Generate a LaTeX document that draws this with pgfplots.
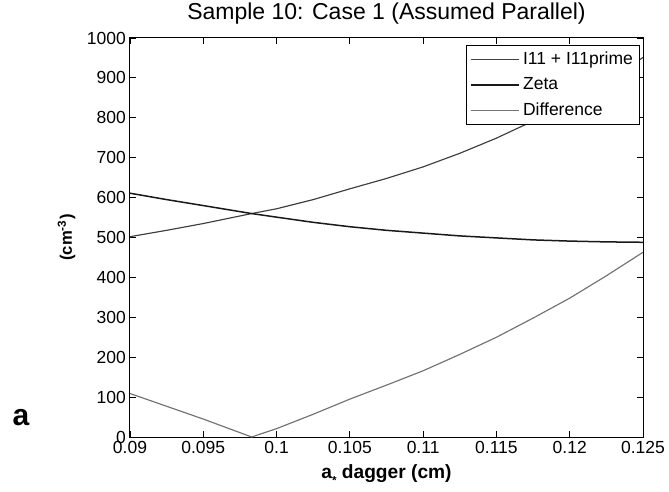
\documentclass[border=0pt]{standalone}
\usepackage{fontspec}
\setmainfont{Liberation Sans}
\usepackage{pgfplots}
\pgfplotsset{compat=1.18}
\begin{document}
\begin{tikzpicture}
\begin{axis}[
  scale only axis,
  width=307.8pt, height=239.4pt,
  xmin=0.09, xmax=0.125, ymin=0, ymax=1000,
  xtick={0.09,0.095,0.1,0.105,0.11,0.115,0.12,0.125},
  xticklabels={0.09,0.095,0.1,0.105,0.11,0.115,0.12,0.125},
  ytick={0,100,...,1000},
  yticklabel style={/pgf/number format/1000 sep={}, xshift=1pt},
  xticklabel style={yshift=1pt},
  tick align=inside, tick pos=both,
  major tick length=3.5pt,
  tick style={black, line width=0.5pt},
  axis line style={black, line width=0.6pt},
  /pgf/number format/assume math mode=true,
  tick label style={font=\fontsize{10.5}{12}\selectfont},
  scaled x ticks=false,
  title={Sample 10: Case 1 (Assumed Parallel)},
  title style={font=\fontsize{13.8}{15}\selectfont, yshift=-1pt},
  xlabel={\textbf{a\raisebox{-0.55ex}{\scriptsize *} dagger (cm)}},
  xlabel style={font=\fontsize{11.5}{13}\selectfont, yshift=0pt},
  ylabel={\textbf{(cm\textsuperscript{-3})}},
  ylabel style={font=\fontsize{10}{12}\selectfont, yshift=0pt},
  legend style={at={(0.994,0.982)}, anchor=north east, draw=black, line width=0.5pt,
    font=\fontsize{10.5}{12}\selectfont, inner sep=2pt, row sep=2.3pt,
    legend cell align=left},
  legend image post style={xscale=1.7},
]
\addplot[black!75, line width=0.7pt] coordinates {
(0.09,502) (0.0925,518) (0.095,535) (0.0983,560) (0.1,572) (0.1025,595) (0.105,622) (0.1075,648) (0.11,677) (0.1125,711) (0.115,749) (0.1175,792) (0.12,839) (0.1225,893) (0.125,951)};
\addlegendentry{I11 + I11prime}
\addplot[black!90, line width=0.9pt] coordinates {
(0.09,611) (0.0925,595) (0.095,580) (0.0983,560) (0.1,551) (0.1025,538) (0.105,527) (0.1075,518) (0.11,511) (0.1125,504) (0.115,499) (0.1175,494) (0.12,491) (0.1225,489) (0.125,488)};
\addlegendentry{Zeta}
\addplot[black!55, line width=0.7pt] coordinates {
(0.09,109) (0.0925,77) (0.095,45) (0.0983,0) (0.1,21) (0.1025,57) (0.105,95) (0.1075,130) (0.11,166) (0.1125,207) (0.115,250) (0.1175,298) (0.12,348) (0.1225,404) (0.125,463)};
\addlegendentry{Difference}
\end{axis}
\node[font=\bfseries\fontsize{18}{20}\selectfont, anchor=center] at (-65.4pt,11.4pt) {a};
\pgfresetboundingbox
\useasboundingbox (-78pt,-32.4pt) rectangle (323.4pt,262.2pt);
\end{tikzpicture}
\end{document}
